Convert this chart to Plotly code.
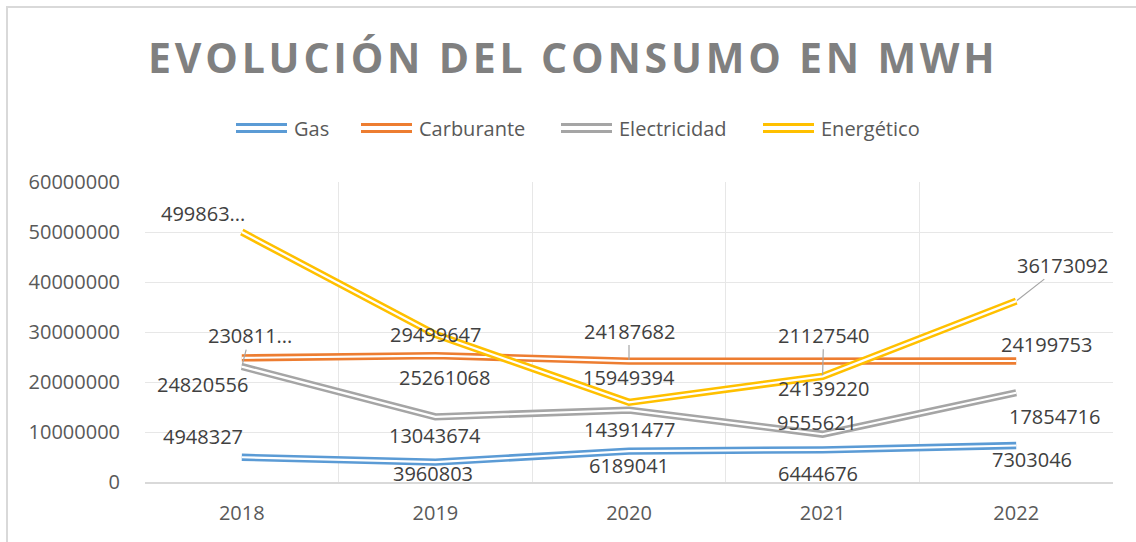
import plotly.graph_objects as go

# ---------------- data ----------------
years = ["2018", "2019", "2020", "2021", "2022"]
series_names = ["Gas", "Carburante", "Electricidad", "Energético"]
gas = [4948327, 3960803, 6189041, 6444676, 7303046]
carburante = [24820556, 25261068, 24187682, 24139220, 24199753]
electricidad = [23081100, 13043674, 14391477, 9555621, 17854716]
energetico = [49986300, 29499647, 15949394, 21127540, 36173092]
# label texts as shown (two are truncated in the original chart)
gas_labels = ["4948327", "3960803", "6189041", "6444676", "7303046"]
carburante_labels = ["24820556", "25261068", "24187682", "24139220", "24199753"]
electricidad_labels = ["230811...", "13043674", "14391477", "9555621", "17854716"]
energetico_labels = ["499863...", "29499647", "15949394", "21127540", "36173092"]
y_ticks = [0, 10000000, 20000000, 30000000, 40000000, 50000000, 60000000]
title_text = "EVOLUCIÓN DEL CONSUMO EN MWH"

# ---------------- style ----------------
W, H = 1136, 542
ML, MR, MT, MB = 145, 23, 182, 60
PW, PH = W - ML - MR, H - MT - MB
colors = ["#5b9bd5", "#ed7d31", "#a5a5a5", "#ffc000"]
FONT = "Open Sans"
LABEL_COLOR = "#404040"
TICK_COLOR = "#595959"

# label offsets in pixels (dx right, dy down) and whether a leader line is drawn
label_offsets = [
    [(-39, -21), (-2, 11), (0, 14), (-5, 24), (16, 14)],
    [(-39, 27), (9, 22), (0, -30), (1, 27), (30, -17)],
    [(8, -31), (0, 19), (0, 19), (-6, -12), (38, 24)],
    [(-39, -19), (0, 0), (0, -25), (1, -41), (46, -36)],
]
leaders = [
    [False] * 5,
    [False, False, True, False, False],
    [True, False, False, False, False],
    [False, False, False, True, True],
]
legend_sample_x = [236, 361, 561, 763]  # left pixel of each legend sample
LEG_Y = 128


def px_x(p):
    return (p - ML) / PW


def px_y(p):
    return (H - MB - p) / PH


values = [gas, carburante, electricidad, energetico]
labels = [gas_labels, carburante_labels, electricidad_labels, energetico_labels]

fig = go.Figure()
for name, vals, col in zip(series_names, values, colors):
    fig.add_trace(go.Scatter(x=years, y=vals, mode="lines", name=name,
                             line=dict(color=col, width=7.3), showlegend=False,
                             hoverinfo="skip"))
    fig.add_trace(go.Scatter(x=years, y=vals, mode="lines", name=name,
                             line=dict(color="white", width=2.2), showlegend=False,
                             hoverinfo="skip"))

annotations = []
for s, (vals, labs) in enumerate(zip(values, labels)):
    for i, (v, t) in enumerate(zip(vals, labs)):
        dx, dy = label_offsets[s][i]
        # category axis: the i-th category sits at serial position i
        if leaders[s][i]:
            annotations.append(dict(
                x=i, y=v, xref="x", yref="y", text=t, showarrow=True,
                ax=dx, ay=dy, arrowhead=0, arrowwidth=1.2, arrowcolor="#a6a6a6",
                standoff=1, borderpad=0,
                font=dict(family=FONT, size=20, color=LABEL_COLOR)))
        else:
            annotations.append(dict(
                x=i, y=v, xref="x", yref="y", text=t, showarrow=False,
                xshift=dx, yshift=-dy, xanchor="center", yanchor="middle",
                font=dict(family=FONT, size=20, color=LABEL_COLOR)))

# title
annotations.append(dict(
    x=px_x(573), y=px_y(57), xref="paper", yref="paper", showarrow=False,
    xanchor="center", yanchor="middle",
    text='<span style="letter-spacing:3.8px">' + title_text + '</span>',
    font=dict(family=FONT, size=41, color="#808080", weight="bold")))

shapes = []
# legend (double-line samples: two thin strands + text)
for name, col, lx in zip(series_names, colors, legend_sample_x):
    for off in (-3.5, 3.5):
        shapes.append(dict(type="line", xref="paper", yref="paper",
                           x0=px_x(lx), x1=px_x(lx + 51),
                           y0=px_y(LEG_Y + off), y1=px_y(LEG_Y + off),
                           line=dict(color=col, width=3)))
    annotations.append(dict(
        x=px_x(lx + 56), y=px_y(LEG_Y), xref="paper", yref="paper", showarrow=False,
        xanchor="left", yanchor="middle", text=name,
        font=dict(family=FONT, size=20, color=TICK_COLOR)))

# outer chart frame
shapes.append(dict(type="rect", xref="paper", yref="paper",
                   x0=px_x(7), x1=px_x(1300), y0=px_y(700), y1=px_y(7),
                   line=dict(color="#d9d9d9", width=2), fillcolor="rgba(0,0,0,0)",
                   layer="below"))

fig.update_layout(
    width=W, height=H,
    margin=dict(l=ML, r=MR, t=MT, b=MB, pad=0),
    paper_bgcolor="white", plot_bgcolor="white",
    showlegend=False,
    annotations=annotations,
    shapes=shapes,
    xaxis=dict(type="category", range=[-0.5, 4.5], tickson="boundaries",
               showgrid=True, gridcolor="#e7e7e7", gridwidth=1,
               showline=True, linecolor="#d9d9d9", linewidth=1.5,
               ticks="", ticklabelstandoff=12, zeroline=False,
               tickfont=dict(family=FONT, size=20, color=TICK_COLOR)),
    yaxis=dict(range=[0, 60000000], tickvals=y_ticks,
               ticktext=[str(v) for v in y_ticks],
               showgrid=True, gridcolor="#e7e7e7", gridwidth=1,
               zeroline=False, showline=False, ticks="", ticklabelstandoff=24,
               tickfont=dict(family=FONT, size=20, color=TICK_COLOR)),
)

fig.write_html("out.html", config={"displayModeBar": False},
               post_script="document.body.style.margin='0';document.body.style.padding='0';")
